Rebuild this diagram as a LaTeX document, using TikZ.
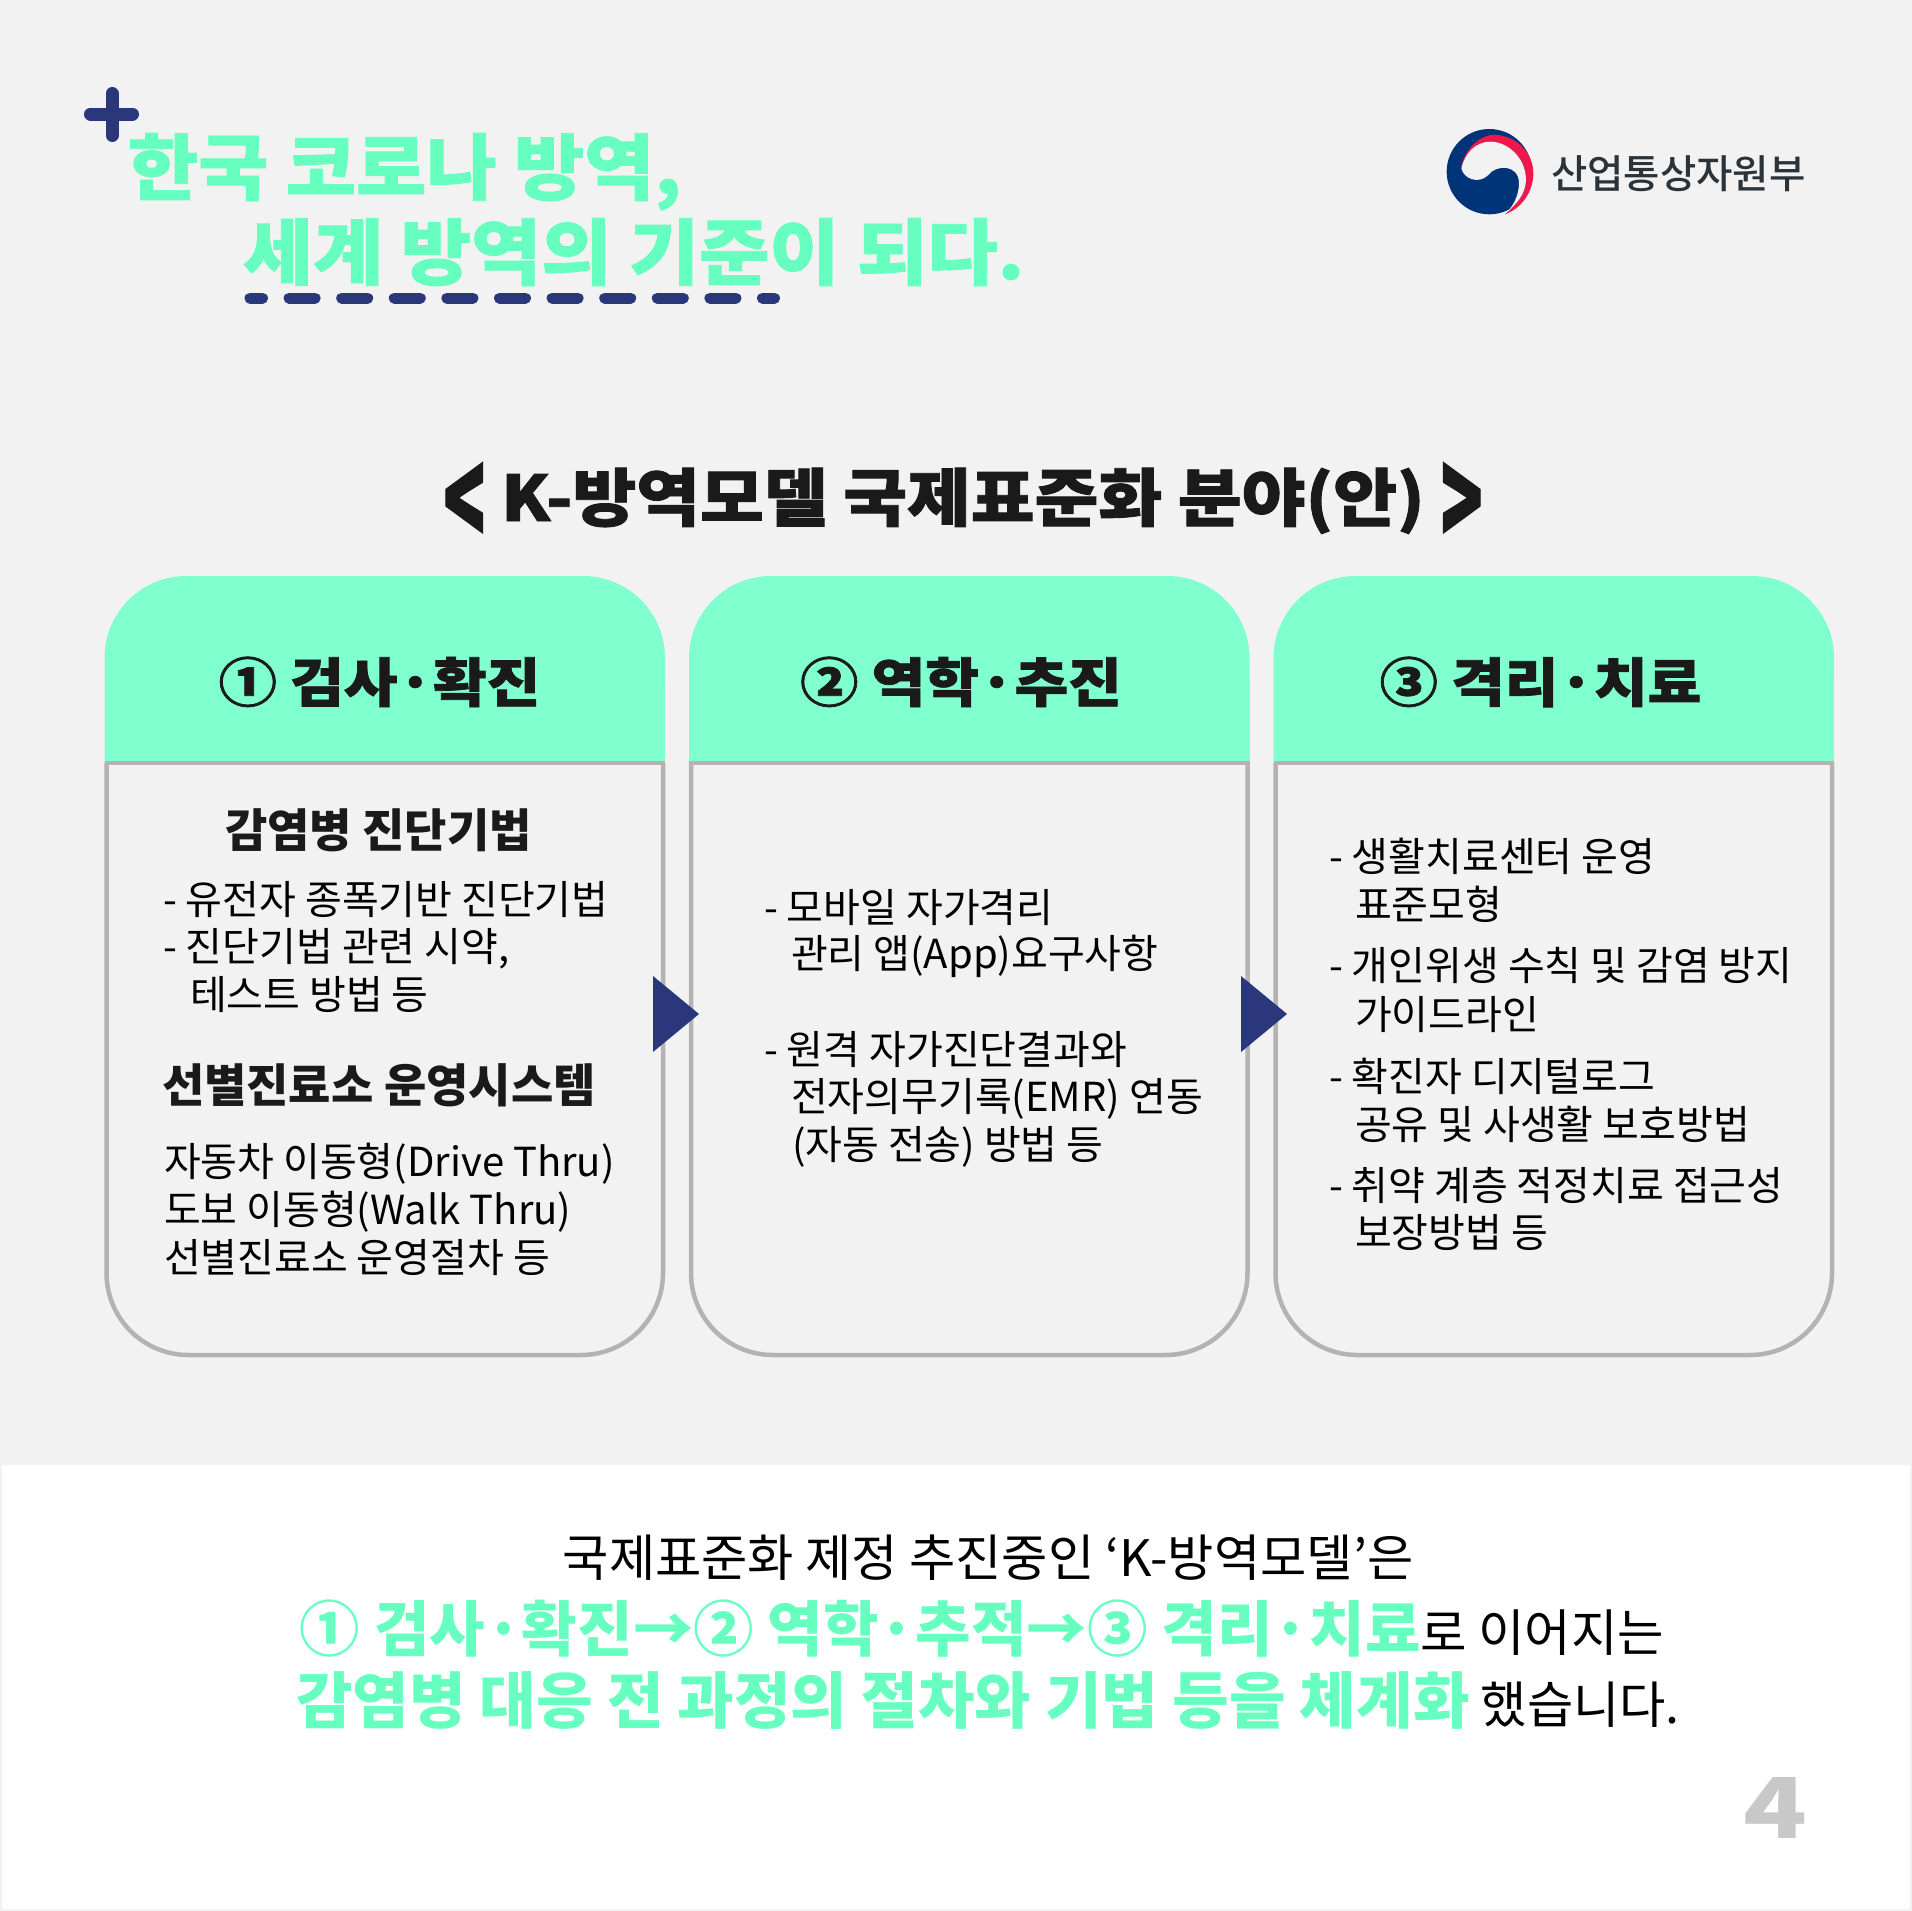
\documentclass[tikz,border=0pt]{standalone}
\usepackage{fontspec}
\setmainfont{Noto Sans CJK KR}
\newfontfamily\heavy{Noto Sans CJK KR Black}
\newfontfamily\heavier[RawFeature={embolden=1.2}]{Noto Sans CJK KR Black}
\newfontfamily\heavyttl[FakeStretch=1.06,RawFeature={embolden=1.2}]{Noto Sans CJK KR Black}
\newfontfamily\heavywide[FakeStretch=1.1,RawFeature={embolden=1.4}]{Noto Sans CJK KR Black}
\newfontfamily\medf{Noto Sans CJK KR Medium}
\definecolor{bgc}{HTML}{F2F2F2}
\definecolor{headc}{HTML}{80FFCF}
\definecolor{mintc}{HTML}{66FFC0}
\definecolor{navyc}{HTML}{2A377B}
\definecolor{edgec}{HTML}{B3B3B3}
\definecolor{inkc}{HTML}{1A1A1A}
\newcommand\fsz[1]{\fontsize{#1}{#1}\selectfont}
\tikzset{
 tx/.style={anchor=base west,inner sep=0pt,outer sep=0pt,text=black,font=\fsz{40}},
 sub/.style={anchor=base west,inner sep=0pt,outer sep=0pt,text=inkc,font=\heavy\fsz{46}},
 hd/.style={anchor=base,inner sep=0pt,outer sep=0pt,text=inkc,font=\heavywide\fsz{53}},
 ttl/.style={anchor=base west,inner sep=0pt,outer sep=0pt,text=mintc,font=\heavyttl\fsz{72}},
 low/.style={anchor=base,inner sep=0pt,outer sep=0pt,text=black,font=\fsz{50.3}},
}
\newcommand\kcard[4]{%
 \begin{scope}[xshift=#1pt]
  \fill[headc,rounded corners=82pt] (0,763) -- (0,576) -- (560.5,576) -- (560.5,763) [sharp corners] -- cycle;
  \fill[headc] (0,680) rectangle (560.5,763);
  \draw[edgec,line width=4.5pt,rounded corners=82pt] (2,763) -- (2,1355) -- (558.5,1355) -- (558.5,763);
  \draw[edgec,line width=4.5pt] (0,763) -- (560.5,763);
  \node[hd] (#2) at (#4,702) {#3};
 \end{scope}}
\newcommand\gm[2]{\textcolor{mintc}{\heavy\fsz{#1}#2}}
\begin{document}
\begin{tikzpicture}[x=1pt,y=-1pt]
\useasboundingbox (0,0) rectangle (1912,1911);
\fill[bgc] (0,0) rectangle (1912,1911);
\fill[white] (2,1465) rectangle (1910,1909);
% plus and title
\draw[navyc,line width=13pt,line cap=round] (112,93.5) -- (112,135.5) (90.5,114) -- (132.5,114);
\node[ttl] (t1) at (128,194) {한국 코로나 방역,};
\node[ttl] (t2) at (243,279) {세계 방역의 기준이 되다.};
\draw[navyc,line width=11pt,line cap=round,dash pattern=on 26pt off 26.6pt,dash phase=13.5pt] (250,298) -- (774.5,298);
% logo
\begin{scope}[shift={(1400,100)},x=0.3333pt,y=-0.3333pt]
 \fill[fill={rgb,255:red,0;green,52;blue,120}] (268,215) circle [radius=128];
 \fill[fill={rgb,255:red,240;green,24;blue,74}] (184,195) .. controls (205,130) and (250,104) .. (285,104) .. controls (360,110) and (400,165) .. (400,220) .. controls (400,275) and (365,325) .. (315,343) .. controls (350,310) and (378,285) .. (378,235) .. controls (375,170) and (320,124) .. (270,125) .. controls (225,126) and (195,160) .. (184,205) -- cycle;
 \fill[bgc] (315,343) .. controls (350,310) and (378,285) .. (378,235) .. controls (375,170) and (320,124) .. (270,125) .. controls (225,126) and (195,160) .. (184,205) .. controls (190,235) and (235,255) .. (265,225) .. controls (285,195) and (357,190) .. (357,250) .. controls (357,290) and (335,325) .. (315,343) -- cycle;
\end{scope}
\node[inner sep=0pt,anchor=base west,text={rgb,255:red,43;green,51;blue,56},font=\medf\fsz{39.5}] (ministry) at (1551,188) {산업통상자원부};
% section heading
\node[anchor=base,inner sep=0pt,text=inkc,font=\heavywide\fsz{63}] (section) at (963,521) {\raisebox{-27pt}{\scalebox{1}[2.1]{<}} K-방역모델 국제표준화 분야(안) \raisebox{-27pt}{\scalebox{1}[2.1]{>}}};
% cards
\kcard{104.5}{h1}{① 검사·확진}{275}
\kcard{689}{h2}{② 역학·추진}{272}
\kcard{1273.5}{h3}{③ 격리·치료}{267}
% arrows
\fill[navyc] (653,976) -- (699,1014) -- (653,1052) -- cycle;
\fill[navyc] (1241,976) -- (1287,1014) -- (1241,1052) -- cycle;
% card 1
\node[sub] (a0) at (225,847) {감염병 진단기법};
\node[tx] (a1) at (163,914) {- 유전자 종폭기반 진단기법};
\node[tx] (a2) at (163,961) {- 진단기법 관련 시약,};
\node[tx] (a3) at (190,1009) {테스트 방법 등};
\node[sub] (a4) at (162,1102) {선별진료소 운영시스템};
\node[tx] (a5) at (164,1176) {자동차 이동형(Drive Thru)};
\node[tx] (a6) at (164,1224) {도보 이동형(Walk Thru)};
\node[tx] (a7) at (164,1272) {선별진료소 운영절차 등};
% card 2
\node[tx] (b1) at (764,922) {- 모바일 자가격리};
\node[tx] (b2) at (791,968) {관리 앱(App)요구사항};
\node[tx] (b3) at (764,1064) {- 원격 자가진단결과와};
\node[tx] (b4) at (791,1111) {전자의무기록(EMR) 연동};
\node[tx] (b5) at (792,1159) {(자동 전송) 방법 등};
% card 3
\node[tx] (c1) at (1329,871) {- 생활치료센터 운영};
\node[tx] (c2) at (1355,919) {표준모형};
\node[tx] (c3) at (1329,980) {- 개인위생 수칙 및 감염 방지};
\node[tx] (c4) at (1355,1029) {가이드라인};
\node[tx] (c5) at (1329,1091) {- 확진자 디지털로그};
\node[tx] (c6) at (1355,1139) {공유 및 사생활 보호방법};
\node[tx] (c7) at (1329,1200) {- 취약 계층 적정치료 접근성};
\node[tx] (c8) at (1355,1247) {보장방법 등};
% bottom
\node[low] (l1) at (988,1576) {국제표준화 제정 추진중인 ‘K-방역모델’은};
\node[low] (l2) at (982,1651) {\gm{60.4}{① 검사·확진→② 역학·추적→③ 격리·치료}\fsz{50.5}로 이어지는};
\node[low] (l3) at (988,1723) {\gm{61.5}{감염병 대응 전 과정의 절차와 기법 등을 체계화} 했습니다.};
\node[anchor=base,inner sep=0pt,text={rgb,255:red,200;green,200;blue,200},font=\heavy\fsz{84}] (pg) at (1775,1838) {\scalebox{1.25}[1]{4}};
\end{tikzpicture}
\end{document}
